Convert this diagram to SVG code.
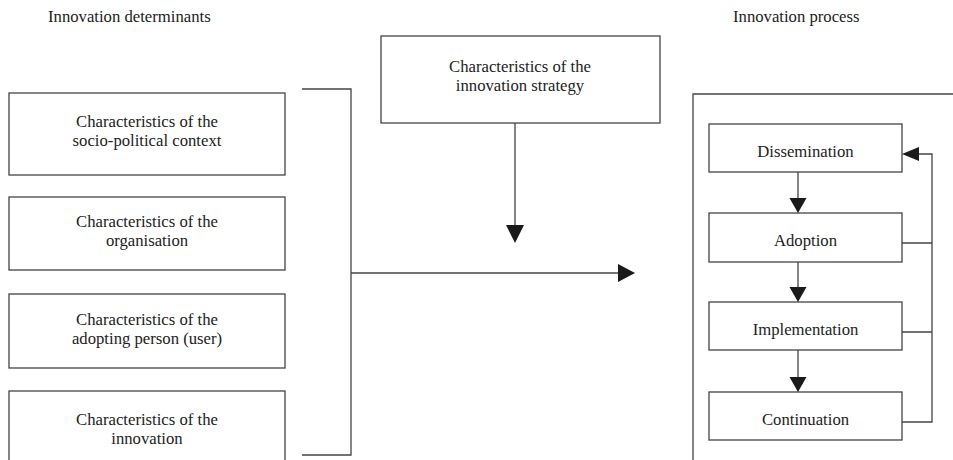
<svg xmlns="http://www.w3.org/2000/svg" width="953" height="460" viewBox="0 0 953 460">
<style>
text{font-family:"Liberation Serif","Times New Roman",serif;font-size:16.7px;fill:#222;text-anchor:middle}
.box{fill:#fff;stroke:#444;stroke-width:1.3}
.ln{fill:none;stroke:#444;stroke-width:1.3}
.ah{fill:#1a1a1a;stroke:none}
.lbl{text-anchor:start}
</style>
<rect width="953" height="460" fill="#fff"/>
<g id="titles">
<text class="lbl" x="48" y="22">Innovation determinants</text>
<text class="lbl" x="733" y="22">Innovation process</text>
</g>
<g id="frame">
<path class="ln" d="M693,462 V94 H955"/>
</g>
<g id="n-context">
<rect class="box" x="9" y="93" width="276" height="82"/>
<text x="147" y="127">Characteristics of the</text>
<text x="147" y="146">socio-political context</text>
</g>
<g id="n-organisation">
<rect class="box" x="9" y="197" width="276" height="73"/>
<text x="147" y="227">Characteristics of the</text>
<text x="147" y="246">organisation</text>
</g>
<g id="n-user">
<rect class="box" x="9" y="294" width="276" height="74"/>
<text x="147" y="325">Characteristics of the</text>
<text x="147" y="344">adopting person (user)</text>
</g>
<g id="n-innovation">
<rect class="box" x="9" y="391" width="276" height="84"/>
<text x="147" y="425">Characteristics of the</text>
<text x="147" y="444">innovation</text>
</g>
<g id="n-strategy">
<rect class="box" x="381" y="36" width="279" height="87"/>
<text x="520" y="72">Characteristics of the</text>
<text x="520" y="91">innovation strategy</text>
</g>
<g id="n-dissemination">
<rect class="box" x="709" y="124" width="193" height="48"/>
<text x="805.5" y="157">Dissemination</text>
</g>
<g id="n-adoption">
<rect class="box" x="709" y="213" width="193" height="49"/>
<text x="805.5" y="246">Adoption</text>
</g>
<g id="n-implementation">
<rect class="box" x="709" y="302" width="193" height="48"/>
<text x="805.5" y="335">Implementation</text>
</g>
<g id="n-continuation">
<rect class="box" x="709" y="392" width="193" height="48"/>
<text x="805.5" y="425">Continuation</text>
</g>
<g id="connectors">
<path class="ln" d="M302,89 H351 V455 H302"/>
<path class="ln" d="M351,273 H620"/>
<polygon class="ah" points="618,264 635,273 618,282"/>
<path class="ln" d="M515,123 V227"/>
<polygon class="ah" points="506,225 524,225 515,243"/>
<path class="ln" d="M798,172 V199"/>
<polygon class="ah" points="789.5,198 806.5,198 798,213"/>
<path class="ln" d="M798,262 V288"/>
<polygon class="ah" points="789.5,287 806.5,287 798,302"/>
<path class="ln" d="M798,350 V378"/>
<polygon class="ah" points="789.5,377 806.5,377 798,392"/>
<path class="ln" d="M902,243 H932 M902,332 H932 M902,422 H932 V154 H918"/>
<polygon class="ah" points="919,147 919,161 902,154"/>
</g>
</svg>
